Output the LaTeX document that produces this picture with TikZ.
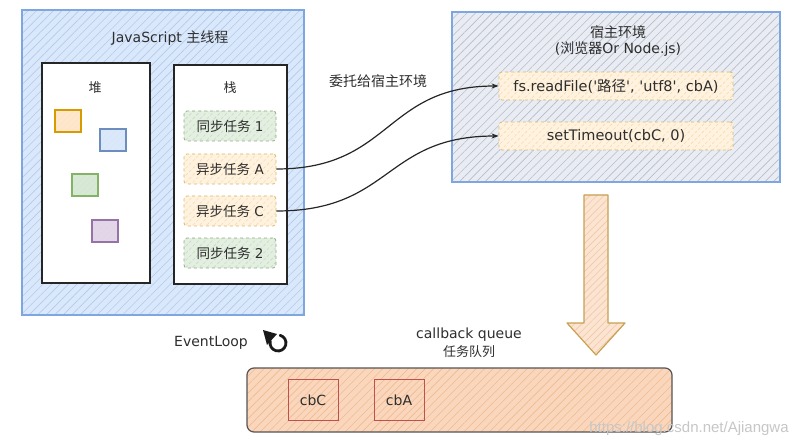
\documentclass[tikz,border=0pt]{standalone}
\usepackage{fontspec}
\setmainfont{DejaVu Sans}[Ligatures=TeXOff]
\newfontfamily\cjk{Noto Sans CJK SC}
\newfontfamily\wmfont{Liberation Sans}
\usetikzlibrary{patterns.meta,arrows.meta}
\definecolor{txt}{HTML}{2E2E2E}
\definecolor{mainfill}{HTML}{DAE8FC}
\definecolor{mainhatch}{HTML}{B4CAEC}
\definecolor{mainborder}{HTML}{7EA6E0}
\definecolor{hostfill}{HTML}{E9EDF3}
\definecolor{hosthatch}{HTML}{B6BDCA}
\definecolor{syncfill}{HTML}{E3EFE0}
\definecolor{synchatch}{HTML}{C8DBC3}
\definecolor{syncborder}{HTML}{8FAE84}
\definecolor{asyncfill}{HTML}{FFF2DE}
\definecolor{asynchatch}{HTML}{F3DDB6}
\definecolor{asyncborder}{HTML}{D9B870}
\definecolor{queuefill}{HTML}{FAD7BC}
\definecolor{queuehatch}{HTML}{F0BA90}
\definecolor{queueborder}{HTML}{555555}
\definecolor{cbborder}{HTML}{C0504D}
\definecolor{arrowfill}{HTML}{FBE4D2}
\definecolor{arrowhatch}{HTML}{F2C8A6}
\definecolor{arrowborder}{HTML}{C9A050}
\definecolor{sqO}{HTML}{D79B00}\definecolor{sqOf}{HTML}{FFE6CC}
\definecolor{sqB}{HTML}{6C8EBF}\definecolor{sqBf}{HTML}{DAE8FC}
\definecolor{sqG}{HTML}{82B366}\definecolor{sqGf}{HTML}{D5E8D4}
\definecolor{sqP}{HTML}{9673A6}\definecolor{sqPf}{HTML}{E1D5E7}
\begin{document}
\begin{tikzpicture}[x=1pt,y=-1pt,
  box/.style={anchor=north west, inner sep=0pt, outer sep=0pt},
  hatch/.style={pattern={Lines[angle=45,distance=#1,line width=0.6pt]}},
  lat/.style={font=\fontsize{14}{17}\selectfont, text=txt},
  cjktext/.style={font=\cjk\fontsize{14}{17}\selectfont, text=txt},
  task/.style={draw=#1border, dashed, line width=0.8pt, rounded corners=3pt,
    preaction={fill=#1fill}, hatch=5pt, pattern color=#1hatch,
    minimum width=92pt, minimum height=30pt, inner sep=0pt,
    font=\fontsize{13.5}{16}\selectfont, text=txt},
  hosttask/.style={draw=asyncborder, dashed, line width=0.8pt, rounded corners=3pt,
    preaction={fill=asyncfill}, hatch=5pt, pattern color=asynchatch,
    minimum width=234pt, minimum height=28pt, inner sep=0pt,
    font=\fontsize{14.5}{17}\selectfont, text=txt},
  sq/.style={box, draw=#1, line width=1.1pt, preaction={fill=#1f}, hatch=4pt,
    pattern color=#1!25, minimum width=26pt, minimum height=22pt},
  cb/.style={draw=cbborder, line width=1pt, preaction={fill=queuefill}, hatch=5pt,
    pattern color=queuehatch, minimum width=50pt, minimum height=41pt,
    inner sep=0pt, font=\fontsize{14}{17}\selectfont, text=txt},
  conn/.style={draw=black!85, line width=1.2pt, -{Stealth[length=7pt,width=5pt]}}
]
\useasboundingbox[fill=white] (0,0) rectangle (802,446);

% main thread box
\node[box, draw=mainborder, line width=1.3pt, preaction={fill=mainfill}, hatch=6pt,
  pattern color=mainhatch, minimum width=282pt, minimum height=305pt] (main) at (22,10) {};
\node[lat] (maintitle) at (170,38) {JavaScript {\cjk 主线程}};

% heap and stack
\node[box, draw=black!85, line width=1.5pt, fill=white, minimum width=108pt, minimum height=220pt] (heap) at (42,63) {};
\node[box, draw=black!85, line width=1.5pt, fill=white, minimum width=113pt, minimum height=219pt] (stack) at (174,65) {};
\node[cjktext, font=\cjk\fontsize{13}{15}\selectfont] (heaplabel) at (95,88) {堆};
\node[cjktext, font=\cjk\fontsize{13}{15}\selectfont] (stacklabel) at (230,88) {栈};

% heap objects
\node[sq=sqO] (o1) at (55,110) {};
\node[sq=sqB] (o2) at (100,129) {};
\node[sq=sqG] (o3) at (72,174) {};
\node[sq=sqP] (o4) at (92,220) {};

% stack tasks
\node[task=sync]  (s1) at (230,126) {{\cjk 同步任务} 1};
\node[task=async] (aA) at (230,169) {{\cjk 异步任务} A};
\node[task=async] (aC) at (230,211) {{\cjk 异步任务} C};
\node[task=sync]  (s2) at (230,253) {{\cjk 同步任务} 2};

% host environment
\node[box, draw=mainborder, line width=1.3pt, preaction={fill=hostfill}, hatch=6pt,
  pattern color=hosthatch, minimum width=328pt, minimum height=170pt] (host) at (452,12) {};
\node[cjktext] (hosttitle) at (618,32) {宿主环境};
\node[lat] (hostsub) at (618,49) {({\cjk 浏览器}Or Node.js)};
\node[hosttask] (fs) at (616,86) {fs.readFile('{\cjk 路径}', 'utf8', cbA)};
\node[hosttask] (st) at (616,136) {setTimeout(cbC, 0)};

% delegation label and connectors
\node[cjktext] (deleg) at (378,81) {委托给宿主环境};
\draw[conn] (aA.east) .. controls (392,169) and (384,86) .. (fs.west);
\draw[conn] (aC.east) .. controls (392,211) and (384,136) .. (st.west);

% big down arrow
\draw[draw=arrowborder, line width=1.2pt, line join=round, preaction={fill=arrowfill},
  hatch=5pt, pattern color=arrowhatch]
  (584,195) -- (608,195) -- (608,323) -- (625,323) -- (596,355) -- (567,323) -- (584,323) -- cycle;

% event loop
\node[lat] (evl) at (211,343) {EventLoop};
\coordinate (loopc) at (278,343);
\draw[line width=2.8pt, black!90, line cap=round]
  (loopc) ++(-75:8) arc[start angle=-75, end angle=195, radius=8];
\fill[black!90] (263,330) -- (277,334) -- (267,345) -- cycle;

% callback queue
\node[lat] (cbq) at (469,335) {callback queue};
\node[cjktext, font=\cjk\fontsize{13}{15}\selectfont] (cbq2) at (469,352) {任务队列};
\node[box, draw=queueborder, line width=1.2pt, rounded corners=7pt, preaction={fill=queuefill},
  hatch=6pt, pattern color=queuehatch, minimum width=425pt, minimum height=64pt] (queue) at (247,368) {};
\node[cb] (cbC) at (313,400) {cbC};
\node[cb] (cbA) at (399,400) {cbA};

% watermark
\node[text=black!22, font=\wmfont\fontsize{15}{17}\selectfont] (wm) at (689,429) {https://blog.csdn.net/Ajiangwa};
\end{tikzpicture}
\end{document}
